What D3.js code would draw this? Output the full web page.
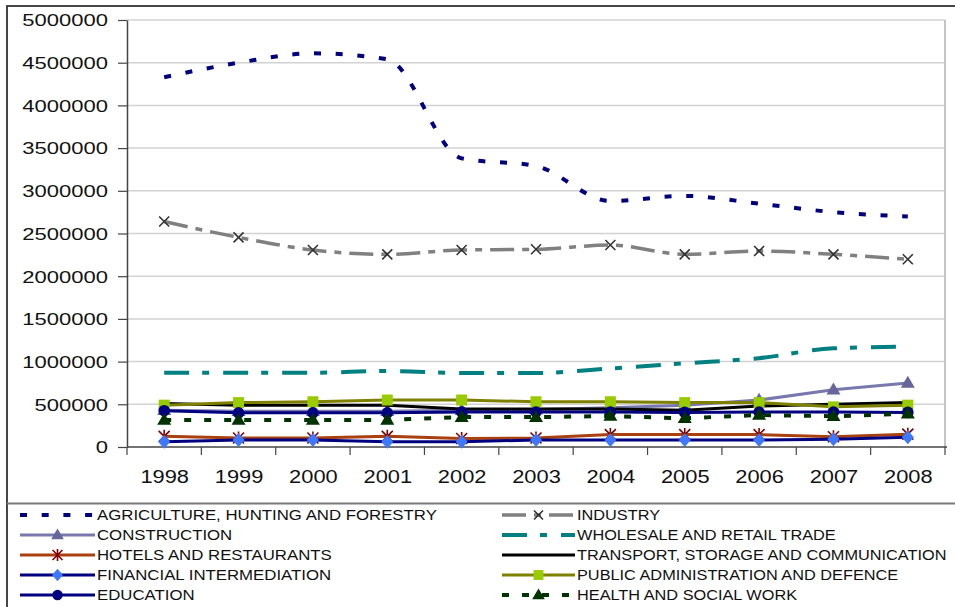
<!DOCTYPE html>
<html><head><meta charset="utf-8">
<script src="https://cdn.jsdelivr.net/npm/d3@7"></script>
<style>body{margin:0;background:#fff}svg{display:block}text{font-family:"Liberation Sans",Arial,sans-serif}</style>
</head><body><svg id="c" width="955" height="607"></svg>
<script>
const years = ["1998","1999","2000","2001","2002","2003","2004","2005","2006","2007","2008"];
const yTicks = [0,500000,1000000,1500000,2000000,2500000,3000000,3500000,4000000,4500000,5000000];
const agriculture = [4330000,4500000,4610000,4540000,3380000,3290000,2880000,2940000,2850000,2750000,2700000];
const industry = [2640000,2455000,2307000,2256000,2307000,2315000,2365000,2256000,2295000,2256000,2198000];
const construction = [430000,420000,420000,420000,430000,440000,460000,490000,550000,670000,750000];
const wholesale = [870000,870000,870000,890000,867000,867000,920000,980000,1040000,1156000,1175000];
const hotels = [125000,105000,105000,125000,100000,105000,145000,145000,145000,120000,150000];
const transport = [510000,490000,490000,490000,445000,445000,445000,430000,480000,500000,520000];
const financial = [62000,82000,82000,62000,62000,82000,82000,82000,82000,90000,113000];
const pubadmin = [490000,520000,530000,550000,550000,530000,530000,520000,520000,470000,490000];
const education = [425000,400000,400000,400000,410000,410000,410000,405000,410000,410000,405000];
const health = [316000,316000,316000,316000,350000,350000,363000,336000,375000,360000,390000];
const seriesNames = ["AGRICULTURE, HUNTING AND FORESTRY","INDUSTRY","CONSTRUCTION","WHOLESALE AND RETAIL TRADE","HOTELS AND RESTAURANTS","TRANSPORT, STORAGE AND COMMUNICATION","FINANCIAL INTERMEDIATION","PUBLIC ADMINISTRATION AND DEFENCE","EDUCATION","HEALTH AND SOCIAL WORK"];
const seriesValues = [agriculture,industry,construction,wholesale,hotels,transport,financial,pubadmin,education,health];

const styles = [
  {color:"#000080", w:4, dash:"7,14.7", marker:null, smooth:true},
  {color:"#808080", w:3.5, dash:"24,8,7,8", marker:"x", mfill:"#333", smooth:true},
  {color:"#7878ae", w:3, dash:null, marker:"tri", mfill:"#66669a", smooth:false},
  {color:"#008080", w:4, dash:"25,13,7,14", marker:null, smooth:true},
  {color:"#a8400f", w:3, dash:null, marker:"ast", mfill:"#800000", smooth:false},
  {color:"#000000", w:3, dash:null, marker:null, smooth:false},
  {color:"#000080", w:3, dash:null, marker:"dia", mfill:"#3d78ff", smooth:false},
  {color:"#808000", w:3, dash:null, marker:"sq", mfill:"#99cc00", smooth:false},
  {color:"#000080", w:3, dash:null, marker:"circ", mfill:"#000080", smooth:false},
  {color:"#003300", w:4, dash:"7,13", marker:"tri", mfill:"#003300", smooth:false}
];

const svg = d3.select("#c");
svg.append("rect").attr("width",955).attr("height",607).attr("fill","#fff");
// outer chart border
svg.append("rect").attr("x",7).attr("y",6).attr("width",960).attr("height",620)
  .attr("fill","none").attr("stroke","#333").attr("stroke-width",1.8);

const L=127,R=945,T=20,B=447;
const x = d3.scalePoint().domain(years).range([L,R]).padding(0.5);
const xb = d3.scaleBand().domain(years).range([L,R]);
const y = d3.scaleLinear().domain([0,5000000]).range([B,T]);

// gridlines
svg.append("g").selectAll("line").data(yTicks.filter(d=>d>0)).join("line")
  .attr("x1",L).attr("x2",R).attr("y1",d=>y(d)).attr("y2",d=>y(d))
  .attr("stroke","#d2d2d2").attr("stroke-width",1.5);
// right border of plot
svg.append("line").attr("x1",R).attr("x2",R).attr("y1",T).attr("y2",B).attr("stroke","#c4c4c4").attr("stroke-width",2);

// y axis
const ky=1.35;
const ya = svg.append("g").attr("transform",`translate(${L},0)`)
  .call(d3.axisLeft(y).tickValues(yTicks).tickFormat(d3.format("d")).tickSize(9).tickSizeOuter(0));
ya.select(".domain").attr("stroke","#444").attr("stroke-width",1.5);
ya.selectAll(".tick line").attr("stroke","#444").attr("stroke-width",1.2);
ya.selectAll(".tick text").attr("font-size",16.3).attr("fill","#111")
  .attr("x",-19/ky).attr("dy","0.36em").attr("transform",`scale(${ky},1)`);

// x axis
const kx=1.15;
const xa = svg.append("g").attr("transform",`translate(0,${B})`)
  .call(d3.axisBottom(x).tickSize(0).tickSizeOuter(0));
xa.select(".domain").remove();
xa.selectAll(".tick text").attr("font-size",19).attr("fill","#111")
  .attr("y",36).attr("dy",0).attr("x",0).attr("transform",`scale(${kx},1)`);
svg.append("line").attr("x1",L).attr("x2",R+2).attr("y1",B).attr("y2",B).attr("stroke","#444").attr("stroke-width",1.5);
const bounds = years.map(d=>xb(d)).concat([xb(years[years.length-1])+xb.bandwidth()]);
svg.append("g").selectAll("line").data(bounds).join("line")
  .attr("x1",d=>d).attr("x2",d=>d).attr("y1",B).attr("y2",B+8)
  .attr("stroke","#444").attr("stroke-width",1.2);

function drawMarker(g, type, cx, cy, fill, s){
  s = s||1;
  if(type==="x"){
    const h=5*s;
    g.append("path").attr("d",`M${cx-h},${cy-h}L${cx+h},${cy+h}M${cx-h},${cy+h}L${cx+h},${cy-h}`)
      .attr("stroke",fill).attr("stroke-width",1.6).attr("fill","none");
  } else if(type==="ast"){
    const h=5.5*s;
    g.append("path").attr("d",`M${cx-h},${cy-h}L${cx+h},${cy+h}M${cx-h},${cy+h}L${cx+h},${cy-h}M${cx},${cy-h-1}L${cx},${cy+h+1}`)
      .attr("stroke",fill).attr("stroke-width",1.6).attr("fill","none");
  } else if(type==="tri"){
    const w=7*s, h=12*s;
    g.append("path").attr("d",`M${cx},${cy-h*0.6}L${cx+w},${cy+h*0.4}L${cx-w},${cy+h*0.4}Z`).attr("fill",fill);
  } else if(type==="dia"){
    const w=6*s,h=7*s;
    g.append("path").attr("d",`M${cx},${cy-h}L${cx+w},${cy}L${cx},${cy+h}L${cx-w},${cy}Z`).attr("fill",fill);
  } else if(type==="sq"){
    const h=5.5*s;
    g.append("rect").attr("x",cx-h).attr("y",cy-h).attr("width",2*h).attr("height",2*h).attr("fill",fill);
  } else if(type==="circ"){
    g.append("circle").attr("cx",cx).attr("cy",cy).attr("r",5.8*s).attr("fill",fill);
  }
}

const plot = svg.append("g");
seriesValues.forEach((vals,i)=>{
  const st = styles[i];
  const line = d3.line().x((d,j)=>x(years[j])).y(d=>y(d))
    .curve(st.smooth ? d3.curveMonotoneX : d3.curveLinear);
  const g = plot.append("g");
  g.append("path").attr("d",line(vals)).attr("fill","none").attr("stroke",st.color)
    .attr("stroke-width",st.w).attr("stroke-dasharray",st.dash).attr("stroke-linejoin","round");
  if(st.marker) vals.forEach((v,j)=>drawMarker(g, st.marker, x(years[j]), y(v), st.mfill));
});

// legend
svg.append("line").attr("x1",7).attr("x2",955).attr("y1",503.5).attr("y2",503.5).attr("stroke","#7a7a7a").attr("stroke-width",2);
const leg = svg.append("g");
seriesNames.forEach((name,i)=>{
  const col=i%2, row=Math.floor(i/2);
  const kl = col===0?1.2:1.165;
  const x0 = col===0?20:502, x1 = col===0?95:575, tx = col===0?97:577;
  const cy = 515+row*20;
  const st = styles[i];
  leg.append("line").attr("x1",x0).attr("x2",x1).attr("y1",cy).attr("y2",cy)
    .attr("stroke",st.color).attr("stroke-width",st.w).attr("stroke-dasharray",st.dash);
  if(st.marker) drawMarker(leg, st.marker, (x0+x1)/2, cy, st.mfill, 0.9);
  leg.append("text").attr("x",tx/kl).attr("y",cy+5).attr("transform",`scale(${kl},1)`)
    .attr("font-size",14).attr("fill","#111").text(name);
});
</script></body></html>
